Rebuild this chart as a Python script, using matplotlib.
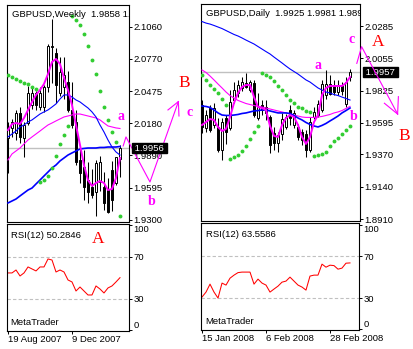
import matplotlib
matplotlib.use("Agg")
import matplotlib.pyplot as plt
import numpy as np

plt.rcParams['font.family'] = ['Liberation Sans', 'DejaVu Sans']

# ---------------- weekly GBPUSD ----------------
w_open = [2.0047, 2.0138, 2.0092, 2.0275, 2.0047, 2.0184, 2.0348, 2.0457, 2.0330, 2.0330,
          2.0512, 2.0877, 2.0823, 2.0457, 2.0512, 2.0558, 2.0303, 2.0193, 1.9850, 1.9782,
          1.9663, 1.9599, 1.9554, 1.9645, 1.9599, 1.9572, 1.9754, 1.9636, 1.9858]
w_high = [2.0193, 2.0220, 2.0300, 2.0330, 2.0190, 2.0520, 2.0510, 2.0480, 2.0510, 2.0530,
          2.0900, 2.1133, 2.0868, 2.0790, 2.0790, 2.0660, 2.0558, 2.0300, 1.9950, 1.9940,
          1.9830, 1.9760, 1.9846, 1.9880, 1.9740, 1.9680, 1.9840, 1.9846, 1.9983]
w_low = [1.9727, 2.0060, 2.0030, 2.0000, 1.9873, 2.0165, 2.0310, 2.0300, 2.0300, 2.0280,
         2.0470, 2.0549, 2.0366, 2.0430, 2.0400, 2.0280, 2.0138, 1.9800, 1.9640, 1.9480,
         1.9450, 1.9500, 1.9334, 1.9560, 1.9390, 1.9360, 1.9380, 1.9620, 1.9690]
w_close = [2.0138, 2.0193, 2.0275, 2.0056, 2.0165, 2.0457, 2.0457, 2.0348, 2.0457, 2.0512,
           2.0887, 2.0887, 2.0530, 2.0649, 2.0622, 2.0302, 2.0166, 1.9827, 1.9727, 1.9599,
           1.9554, 1.9526, 1.9818, 1.9827, 1.9453, 1.9371, 1.9481, 1.9873, 1.9956]
w_ma_fast = [2.0120, 2.0175, 2.0184, 2.0175, 2.0230, 2.0303, 2.0376, 2.0440, 2.0485, 2.0540,
             2.0631, 2.0741, 2.0768, 2.0722, 2.0595, 2.0485, 2.0348, 2.0166, 1.9984, 1.9801,
             1.9664, 1.9610, 1.9637, 1.9655, 1.9637, 1.9573, 1.9582, 1.9683, 1.9865]
w_ma_mid = [2.0057, 2.0084, 2.0111, 2.0148, 2.0166, 2.0193, 2.0212, 2.0239, 2.0266, 2.0285,
            2.0303, 2.0330, 2.0358, 2.0403, 2.0440, 2.0440, 2.0421, 2.0394, 2.0376, 2.0348,
            2.0321, 2.0285, 2.0239, 2.0166, 2.0102, 2.0029, 1.9965, 1.9920, 1.9892]
w_ma_slow = [1.9847, 1.9902, 1.9929, 1.9956, 1.9993, 2.0029, 2.0057, 2.0084, 2.0111, 2.0139,
             2.0166, 2.0184, 2.0203, 2.0221, 2.0239, 2.0248, 2.0257, 2.0266, 2.0266, 2.0257,
             2.0248, 2.0239, 2.0230, 2.0212, 2.0184, 2.0157, 2.0148, 2.0139, 2.0134]
w_ma_long = [1.9455, 1.9473, 1.9491, 1.9519, 1.9546, 1.9573, 1.9591, 1.9628, 1.9664, 1.9701,
             1.9737, 1.9774, 1.9801, 1.9838, 1.9865, 1.9892, 1.9911, 1.9929, 1.9947, 1.9952,
             1.9956, 1.9956, 1.9956, 1.9961, 1.9961, 1.9965, 1.9965, 1.9965, 1.9970]
w_sar = [2.0622, 2.0604, 2.0586, 2.0568, 2.0549, 2.0540, 2.0513, 2.0495,
         1.9646, 1.9665, 1.9701, 1.9774, 1.9884, 1.9993, 2.0075, 2.0157,
         2.1156, 2.1119, 2.1078, 2.0996, 2.0887, 2.0754, 2.0627, 2.0472, 2.0330, 2.0212,
         2.0102, 2.0011, 1.9336]
w_rsi = [54.8, 54.8, 57.6, 51.9, 54.8, 60.5, 58.6, 56.7, 60.5, 60.5, 68.1, 67.1, 55.7, 57.6,
         55.7, 48.1, 46.2, 37.6, 41.4, 37.6, 33.8, 33.8, 42.4, 39.5, 35.7, 40.5, 42.4, 46.2,
         50.2846]
w_levels = [2.1060, 2.0770, 2.0475, 2.0180, 1.9890, 1.9595, 1.9300]
w_dates = ["19 Aug 2007", "9 Dec 2007"]
w_date_bars = [0, 16]

# ---------------- daily GBPUSD ----------------
d_open = [1.9723, 1.9559, 1.9701, 1.9580, 1.9566, 1.9402, 1.9630, 1.9559, 1.9758, 1.9808,
          1.9844, 1.9879, 1.9829, 1.9879, 1.9630, 1.9723, 1.9708, 1.9637, 1.9523, 1.9452,
          1.9516, 1.9566, 1.9687, 1.9580, 1.9566, 1.9530, 1.9516, 1.9402, 1.9637, 1.9651,
          1.9687, 1.9794, 1.9872, 1.9865, 1.9815, 1.9858, 1.9730, 1.9925]
d_high = [1.9758, 1.9687, 1.9723, 1.9737, 1.9630, 1.9630, 1.9651, 1.9829, 1.9886, 1.9901,
          1.9922, 1.9950, 1.9901, 1.9901, 1.9808, 1.9758, 1.9758, 1.9651, 1.9566, 1.9530,
          1.9666, 1.9658, 1.9723, 1.9687, 1.9587, 1.9552, 1.9545, 1.9637, 1.9708, 1.9758,
          1.9901, 1.9972, 1.9936, 1.9901, 1.9901, 1.9886, 1.9922, 1.9981]
d_low = [1.9523, 1.9530, 1.9530, 1.9559, 1.9388, 1.9331, 1.9445, 1.9545, 1.9737, 1.9779,
         1.9822, 1.9844, 1.9815, 1.9637, 1.9616, 1.9651, 1.9616, 1.9381, 1.9402, 1.9388,
         1.9473, 1.9552, 1.9580, 1.9559, 1.9473, 1.9438, 1.9352, 1.9388, 1.9623, 1.9637,
         1.9673, 1.9765, 1.9794, 1.9794, 1.9794, 1.9794, 1.9708, 1.9890]
d_close = [1.9566, 1.9651, 1.9545, 1.9701, 1.9402, 1.9601, 1.9530, 1.9744, 1.9829, 1.9865,
           1.9886, 1.9851, 1.9886, 1.9651, 1.9708, 1.9687, 1.9666, 1.9438, 1.9452, 1.9509,
           1.9623, 1.9637, 1.9630, 1.9666, 1.9495, 1.9473, 1.9402, 1.9601, 1.9673, 1.9730,
           1.9872, 1.9872, 1.9801, 1.9815, 1.9865, 1.9822, 1.9886, 1.9957]
d_ma_fast = [1.9580, 1.9601, 1.9623, 1.9616, 1.9566, 1.9537, 1.9552, 1.9637, 1.9737, 1.9808,
             1.9851, 1.9865, 1.9865, 1.9779, 1.9708, 1.9701, 1.9687, 1.9573, 1.9502, 1.9495,
             1.9580, 1.9630, 1.9651, 1.9637, 1.9580, 1.9495, 1.9445, 1.9495, 1.9601, 1.9651,
             1.9794, 1.9844, 1.9858, 1.9858, 1.9858, 1.9858, 1.9879, 1.9922]
d_ma_mid = [1.9715, 1.9712, 1.9705, 1.9687, 1.9666, 1.9651, 1.9648, 1.9648, 1.9651, 1.9655,
            1.9662, 1.9666, 1.9673, 1.9680, 1.9683, 1.9687, 1.9687, 1.9680, 1.9673, 1.9666,
            1.9666, 1.9666, 1.9662, 1.9648, 1.9630, 1.9616, 1.9598, 1.9584, 1.9573, 1.9566,
            1.9577, 1.9591, 1.9609, 1.9626, 1.9644, 1.9666, 1.9683, 1.9701]
d_ma_slow = [1.9972, 1.9954, 1.9929, 1.9901, 1.9872, 1.9844, 1.9815, 1.9790, 1.9772, 1.9755,
             1.9744, 1.9733, 1.9726, 1.9719, 1.9712, 1.9708, 1.9701, 1.9694, 1.9687, 1.9680,
             1.9673, 1.9666, 1.9658, 1.9651, 1.9644, 1.9637, 1.9634, 1.9634, 1.9634, 1.9637,
             1.9641, 1.9648, 1.9655, 1.9666, 1.9673, 1.9683, 1.9698, 1.9712]
d_ma_long = [2.0317, 2.0306, 2.0299, 2.0289, 2.0278, 2.0267, 2.0253, 2.0239, 2.0225, 2.0214,
             2.0200, 2.0185, 2.0171, 2.0157, 2.0139, 2.0121, 2.0103, 2.0086, 2.0064, 2.0043,
             2.0022, 2.0000, 1.9979, 1.9961, 1.9943, 1.9922, 1.9901, 1.9886, 1.9865, 1.9844,
             1.9829, 1.9815, 1.9808, 1.9797, 1.9790, 1.9779, 1.9769, 1.9758]
d_sar = [1.9936, 1.9901, 1.9865, 1.9836, 1.9808, 1.9765, 1.9723,
         1.9338, 1.9352, 1.9367, 1.9395, 1.9431, 1.9480, 1.9530, 1.9573,
         1.9953, 1.9938, 1.9920, 1.9893, 1.9861, 1.9829, 1.9794, 1.9758, 1.9735, 1.9710,
         1.9699, 1.9682, 1.9671,
         1.9359, 1.9367, 1.9374, 1.9390, 1.9431, 1.9466, 1.9490, 1.9514, 1.9545, 1.9573]
d_rsi = [31.0, 35.7, 43.3, 35.7, 30.0, 44.3, 42.4, 49.0, 51.9, 54.3, 54.8, 54.8, 54.8, 43.3,
         48.1, 44.3, 42.4, 35.7, 38.6, 41.4, 45.2, 46.2, 50.0, 46.2, 42.4, 40.5, 37.6, 51.0,
         51.9, 51.9, 62.4, 59.5, 61.4, 61.0, 57.6, 58.6, 63.3, 63.5586]
d_levels = [2.0285, 2.0055, 1.9825, 1.9595, 1.9370, 1.9140, 1.8910]
d_dates = ["15 Jan 2008", "6 Feb 2008", "28 Feb 2008"]
d_date_bars = [0, 16, 32]

# hand drawn wave forecast (bar index, price)
w_wave_x = [28.8, 29.5, 35.5, 42.6]
w_wave_p = [1.9975, 2.0057, 1.9646, 2.0379]
w_head_x = [40.0, 42.6, 42.75]
w_head_p = [2.0303, 2.0379, 2.0248]
w_marks = [("a", 28.2, 2.0242), ("b", 35.9, 1.9467), ("c", 45.5, 2.0278)]
w_big = [("B", 44.1, 2.0552)]
d_wave_x = [38.7, 39.9, 48.9]
d_wave_p = [2.0019, 2.0138, 1.9658]
d_head_x = [45.6, 48.9, 49.1]
d_head_p = [1.9735, 1.9658, 1.9782]
d_marks = [("a", 29.1, 2.0002), ("b", 37.8, 1.9644), ("c", 37.4, 2.0190)]
d_big = [("A", 44.1, 2.0173), ("B", 50.5, 1.9502)]

MAG = '#ff00ff'
BLUE = '#0000ff'
GREEN = '#32cd32'
SILVER = '#c0c0c0'
FS = 6.8

W, H = 413, 349
fig = plt.figure(figsize=(W / 100, H / 100), dpi=100)


def box(l, t, r, b):
    return [l / W, 1 - b / H, (r - l) / W, (b - t) / H]


def style(ax):
    for s in ax.spines.values():
        s.set_linewidth(0.8)
        s.set_color('black')
    ax.yaxis.tick_right()
    ax.tick_params(axis='both', direction='out', length=2.2, width=0.7, pad=1.0,
                   labelsize=FS, colors='black')


def candles(ax, o, h, l, c):
    o = np.array(o)
    c = np.array(c)
    x = np.arange(len(o))
    ax.vlines(x, l, h, color='black', lw=0.75, zorder=3)
    cols = np.where(c >= o, 'white', 'black')
    ax.bar(x, c - o, bottom=o, width=0.62, color=cols, edgecolor='black',
           linewidth=0.7, zorder=4)


def price_panel(ax, o, h, l, c, fast, mid, slow, long_, sar, levels, title, lw_mid, lw_long,
                label_on_top):
    style(ax)
    x = np.arange(len(o))
    ax.axhline(c[-1], color=SILVER, lw=1.0, zorder=1)
    candles(ax, o, h, l, c)
    ax.plot(x, slow, color=MAG, lw=0.8, zorder=5)
    ax.plot(x, mid, color=BLUE, lw=lw_mid, zorder=5)
    ax.plot(x, long_, color=BLUE, lw=lw_long, zorder=5)
    ax.plot(x, fast, color=MAG, lw=1.4, zorder=6)
    ax.plot(x, sar, 'o', color=GREEN, ms=2.8, mew=0, zorder=6)
    ax.set_xticks([])
    ax.set_yticks(levels)
    ax.set_yticklabels([f'{v:.4f}' for v in levels])
    ax.text(0.035, 0.958, title, transform=ax.transAxes, fontsize=FS, va='center',
            ha='left', clip_on=True, zorder=7)
    ax.annotate(f' {c[-1]:.4f} ', xy=(1, c[-1]), xycoords=('axes fraction', 'data'),
                xytext=(3, 0), textcoords='offset pixels', fontsize=FS, color='white',
                va='center', ha='left', annotation_clip=False,
                zorder=8 if label_on_top else 5,
                bbox=dict(boxstyle='square,pad=0.05', fc='black', ec='black'))


def rsi_panel(ax, rsi, dates, date_bars, n):
    style(ax)
    x = np.arange(n)
    ax.axhline(70, color=SILVER, lw=0.8, ls=(0, (3, 2)))
    ax.axhline(30, color=SILVER, lw=0.8, ls=(0, (3, 2)))
    ax.plot(x, rsi, color='#ff0000', lw=0.75)
    ax.set_ylim(-0.5, 101.4)
    ax.set_yticks([100, 70, 30, 0])
    ax.set_yticklabels(['100', '70', '30', '0'])
    labs = ax.get_yticklabels()
    labs[0].set_va('top')
    labs[3].set_va('bottom')
    ax.set_xticks(date_bars)
    ax.set_xticklabels(dates)
    for t in ax.get_xticklabels():
        t.set_ha('left')
    ax.text(0.03, 0.895, f'RSI(12) {rsi[-1]:.4f}', transform=ax.transAxes, fontsize=FS,
            va='center', ha='left')
    ax.text(0.025, 0.08, 'MetaTrader', transform=ax.transAxes, fontsize=FS,
            va='center', ha='left')


def wave(ax, xs, ps, hx, hp, marks, big, z):
    ax.plot(xs, ps, color=MAG, lw=0.8, clip_on=False, zorder=z)
    ax.plot(hx[:2], hp[:2], color=MAG, lw=0.8, clip_on=False, zorder=z)
    ax.plot(hx[1:], hp[1:], color=MAG, lw=0.8, clip_on=False, zorder=z)
    for s, xi, pi in marks:
        ax.text(xi, pi, s, color=MAG, fontsize=10, fontweight='bold',
                family='Liberation Serif', ha='center', va='center', clip_on=False, zorder=9)
    for s, xi, pi in big:
        ax.text(xi, pi, s, color='#ff0000', fontsize=12.5, family='Liberation Serif',
                ha='center', va='center', clip_on=False, zorder=9)


# weekly
ax_w = fig.add_axes(box(7.3, 5, 129.3, 221.7))
price_panel(ax_w, w_open, w_high, w_low, w_close, w_ma_fast, w_ma_mid, w_ma_slow, w_ma_long,
            w_sar, w_levels,
            f'GBPUSD,Weekly  {w_open[-1]:.4f} {w_high[-1]:.4f} {w_low[-1]:.4f} {w_close[-1]:.4f}',
            0.8, 1.2, True)
ax_w.set_xlim(-0.18, 30.33)
ax_w.set_ylim(1.9284, 2.1260)
wave(ax_w, w_wave_x, w_wave_p, w_head_x, w_head_p, w_marks, w_big, 6)

ax_wr = fig.add_axes(box(7.3, 224, 129.3, 331))
rsi_panel(ax_wr, w_rsi, w_dates, w_date_bars, len(w_rsi))
ax_wr.set_xlim(-0.18, 30.33)
ax_wr.text(22.5, 87, 'A', color='#ff0000', fontsize=12.5, family='Liberation Serif',
           ha='center', va='center')

# daily
ax_d = fig.add_axes(box(200.7, 4, 360, 221.3))
price_panel(ax_d, d_open, d_high, d_low, d_close, d_ma_fast, d_ma_mid, d_ma_slow, d_ma_long,
            d_sar, d_levels,
            f'GBPUSD,Daily  {d_open[-1]:.4f} {d_high[-1]:.4f} {d_low[-1]:.4f} {d_close[-1]:.4f}',
            1.2, 0.8, False)
ax_d.set_xlim(-0.33, 39.5)
ax_d.set_ylim(1.8894, 2.0442)
wave(ax_d, d_wave_x, d_wave_p, d_head_x, d_head_p, d_marks, d_big, 7)

ax_dr = fig.add_axes(box(201.3, 223.3, 359.3, 330))
rsi_panel(ax_dr, d_rsi, d_dates, d_date_bars, len(d_rsi))
ax_dr.set_xlim(-0.18, 39.33)

fig.savefig('out.png', dpi=100)
